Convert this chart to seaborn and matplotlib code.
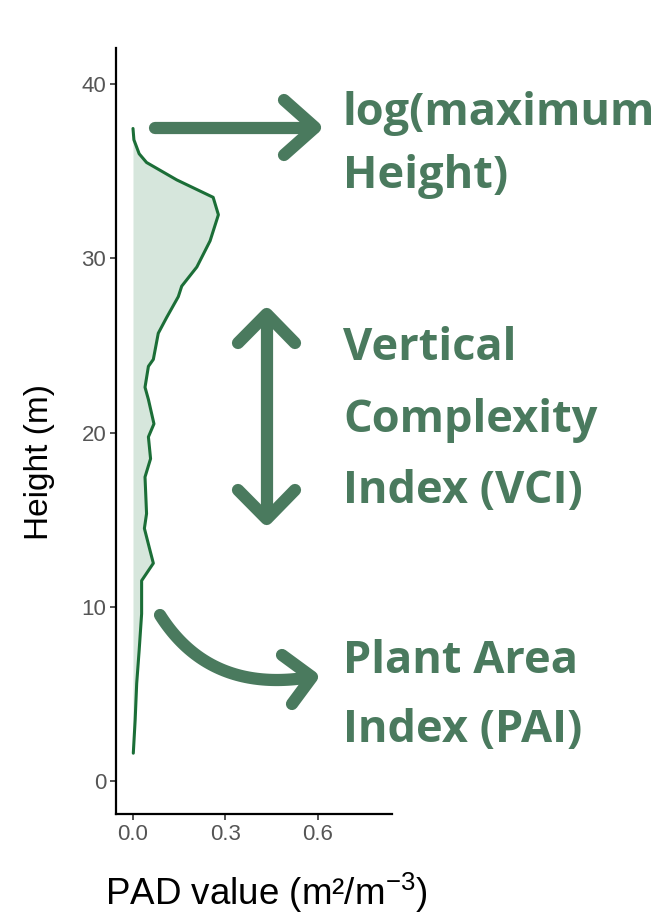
import numpy as np
import pandas as pd
import matplotlib
matplotlib.use("Agg")
import matplotlib.pyplot as plt
from matplotlib.lines import Line2D
import seaborn as sns

# ---- data ----
height = [37.45, 36.8, 36.0, 35.5, 34.5, 33.5, 32.5, 31.0, 29.5, 28.4, 27.8,
          26.6, 25.7, 24.2, 23.8, 22.6, 21.9, 20.5, 19.75, 18.5, 17.45, 15.35,
          14.5, 13.25, 12.5, 11.5, 9.6, 7.5, 5.6, 3.5, 1.6]
pad = [0.000, 0.003, 0.020, 0.044, 0.142, 0.260, 0.277, 0.250, 0.207, 0.158, 0.147,
       0.109, 0.082, 0.066, 0.050, 0.039, 0.050, 0.068, 0.050, 0.057, 0.039, 0.044,
       0.037, 0.055, 0.066, 0.028, 0.028, 0.020, 0.012, 0.007, 0.001]
x_ticks = [0.0, 0.3, 0.6]
y_ticks = [0, 10, 20, 30, 40]
annot_lines = ["log(maximum", "Height)", "Vertical", "Complexity", "Index (VCI)",
               "Plant Area", "Index (PAI)"]

df = pd.DataFrame({"pad": pad, "height": height})

sns.set_style("ticks")
plt.rcParams["font.family"] = ["Liberation Sans", "DejaVu Sans"]
plt.rcParams["mathtext.fontset"] = "custom"
plt.rcParams["mathtext.rm"] = "Liberation Sans"
plt.rcParams["mathtext.it"] = "Liberation Sans"
plt.rcParams["mathtext.default"] = "regular"

W, H = 664, 914
fig = plt.figure(figsize=(W / 100, H / 100), dpi=100)
fig.patch.set_facecolor("white")

ax = fig.add_axes([116 / W, 1 - 814 / H, (392 - 116) / W, (814 - 48) / H])
line_col = "#1b6e37"
fill_col = "#d6e6dc"
ax.fill_betweenx(df["height"], 0, df["pad"], color=fill_col, lw=0, zorder=1)
sns.lineplot(data=df, x="pad", y="height", sort=False, estimator=None,
             color=line_col, lw=2.2, ax=ax, zorder=2)

ax.set_xlim(-0.0551, 0.840)
ax.set_ylim(-1.89, 42.07)
ax.set_xticks(x_ticks)
ax.set_xticklabels([f"{v:.1f}" for v in x_ticks])
ax.set_yticks(y_ticks)
ax.set_yticklabels([str(v) for v in y_ticks])
for s in ["top", "right"]:
    ax.spines[s].set_visible(False)
for s in ["left", "bottom"]:
    ax.spines[s].set_linewidth(1.6)
    ax.spines[s].set_color("black")
ax.tick_params(axis="both", length=4, width=1.2, color="#333333",
               labelcolor="#555555", labelsize=16, pad=3)
ax.set_xlabel("PAD value (m²/m$^{-3}$)", fontsize=26.5, color="black")
ax.set_ylabel("Height (m)", fontsize=24, color="black")
ax.xaxis.set_label_coords((266 - 116) / (392 - 116), -(893 - 814) / (814 - 48))
ax.yaxis.set_label_coords((40 - 116) / (392 - 116), (814 - 462) / (814 - 48))
ax.xaxis.label.set_verticalalignment("center")
ax.yaxis.label.set_verticalalignment("center")

# ---- overlay in pixel coordinates for the annotations ----
ov = fig.add_axes([0, 0, 1, 1], zorder=5)
ov.set_xlim(0, W)
ov.set_ylim(H, 0)
ov.axis("off")
ov.patch.set_alpha(0)

acol = "#4a7a5e"
lw_arrow = 8.8
def seg(xs, ys):
    ov.add_line(Line2D(xs, ys, color=acol, lw=lw_arrow, solid_capstyle="round",
                       solid_joinstyle="round"))

# horizontal arrow
seg([155, 314], [127.5, 127.5])
seg([284, 315, 284], [100, 127.5, 155])
# vertical double arrow
seg([266.7, 266.7], [316, 517])
seg([238, 266.7, 295], [343, 314, 343])
seg([238, 266.7, 295], [490, 519, 490])
# curved arrow (quadratic bezier)
t = np.linspace(0, 1, 60)
p0, c, p2 = np.array([160, 615]), np.array([210, 694]), np.array([311, 677])
bx = (1 - t) ** 2 * p0[0] + 2 * (1 - t) * t * c[0] + t ** 2 * p2[0]
by = (1 - t) ** 2 * p0[1] + 2 * (1 - t) * t * c[1] + t ** 2 * p2[1]
seg(bx, by)
seg([282, 312, 292], [655, 677, 704])

tfam = ["Open Sans", "DejaVu Sans"]
baselines = [125, 188, 360, 432, 503, 673, 742]
for txt, yb in zip(annot_lines, baselines):
    ov.text(343, yb, txt, color=acol, fontsize=32.5, fontweight="bold",
            family=tfam, ha="left", va="baseline")

fig.savefig("out.png", dpi=100, facecolor="white")
